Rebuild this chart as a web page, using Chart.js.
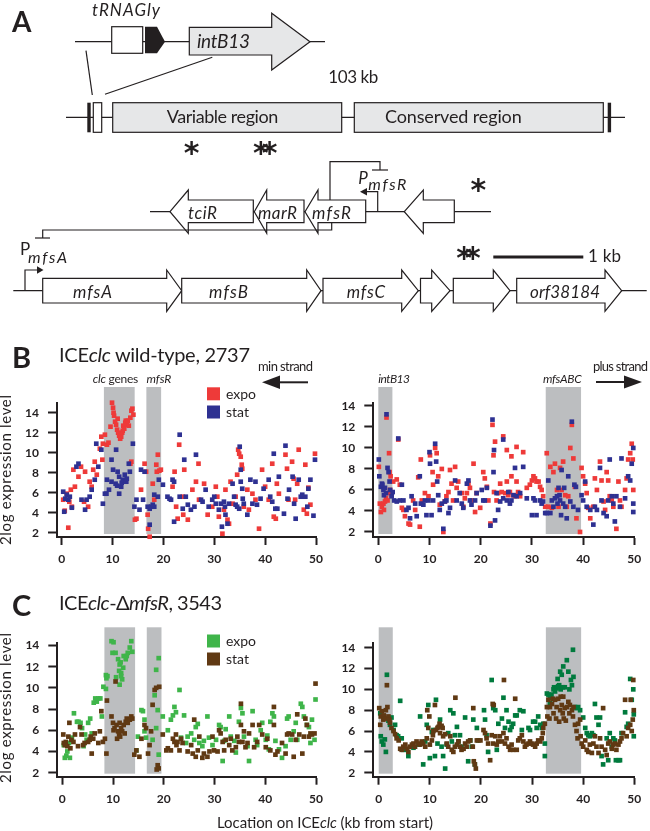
<!DOCTYPE html>
<html>
<head>
<meta charset="utf-8">
<title>ICEclc expression</title>
<script src="https://cdn.jsdelivr.net/npm/chart.js@4.4.1/dist/chart.umd.min.js"></script>
<style>
  html, body { margin: 0; padding: 0; background: #fff; }
  #page { position: relative; width: 650px; height: 831px; overflow: hidden; font-family: Lato, 'Open Sans', sans-serif; }
  canvas { position: absolute; }
  #overlay { position: absolute; left: 0; top: 0; z-index: 2; }
</style>
</head>
<body>
<div id="page">
  <canvas id="wtMin" width="330" height="190" style="left:0;top:380px"></canvas>
  <canvas id="wtPlus" width="330" height="190" style="left:320px;top:380px"></canvas>
  <canvas id="koMin" width="330" height="190" style="left:0;top:620px"></canvas>
  <canvas id="koPlus" width="330" height="190" style="left:320px;top:620px"></canvas>

  <svg id="overlay" width="650" height="831" font-family="Lato, 'Open Sans', sans-serif" fill="#231f20">
    <!-- panel A: gene map -->
    <g stroke="#231f20" stroke-width="1.2" fill="none">
      <line x1="75" y1="41.7" x2="325" y2="41.7"/>
      <rect x="111.7" y="26.7" width="31" height="26.6" fill="#fff"/>
      <polygon points="189.3,27.3 271.7,27.3 271.7,13.3 310,41.7 271.7,70 271.7,55 189.3,55" fill="#e6e7e8"/>
      <line x1="86" y1="50.7" x2="92.3" y2="95"/>
      <line x1="212.3" y1="57.3" x2="105" y2="94.3"/>

      <line x1="66" y1="117.3" x2="625" y2="117.3"/>
      <rect x="93.3" y="102.7" width="8.4" height="29.6" fill="#fff"/>
      <rect x="112.7" y="102.7" width="229" height="29.6" fill="#e6e7e8"/>
      <rect x="354.3" y="102.7" width="249" height="29.6" fill="#e6e7e8"/>

      <line x1="150" y1="211.7" x2="491" y2="211.7"/>
      <polygon points="170,211.7 188.3,190 188.3,200 253.3,200 253.3,222.7 188.3,222.7 188.3,233.3" fill="#fff"/>
      <polygon points="254.3,211.7 266.7,190 266.7,200 304,200 304,222.7 266.7,222.7 266.7,233.3" fill="#fff"/>
      <polygon points="305,211.7 318,190 318,200 365.7,200 365.7,222.7 318,222.7 318,233.3" fill="#fff"/>
      <polygon points="404.3,211.7 423.3,190 423.3,200 454.3,200 454.3,222.7 423.3,222.7 423.3,233.3" fill="#fff"/>
      <polyline points="377.7,211.7 377.7,191.7 366,191.7"/>
      <polyline points="330,200 330,161.7 380,161.7 380,170"/>
      <line x1="372" y1="170" x2="388" y2="170"/>

      <polyline points="331.7,222.7 331.7,230 42.7,230 42.7,238"/>
      <line x1="35" y1="238" x2="50" y2="238"/>
      <line x1="13.3" y1="290.7" x2="646.7" y2="290.7"/>
      <polyline points="25,290.7 25,270 38,270"/>
      <polygon points="42.7,278.3 166.7,278.3 166.7,270 181.7,290.7 166.7,311.3 166.7,303 42.7,303" fill="#fff"/>
      <polygon points="181.7,278.3 306.7,278.3 306.7,270 321,290.7 306.7,311.3 306.7,303 181.7,303" fill="#fff"/>
      <polygon points="323,278.3 401.7,278.3 401.7,270 418.3,290.7 401.7,311.3 401.7,303 323,303" fill="#fff"/>
      <polygon points="420.5,278.3 431.7,278.3 431.7,270 450,290.7 431.7,311.3 431.7,303 420.5,303" fill="#fff"/>
      <polygon points="453.3,278.3 493.3,278.3 493.3,270 510,290.7 493.3,311.3 493.3,303 453.3,303" fill="#fff"/>
      <polygon points="516.7,278.3 605,278.3 605,270 621.7,290.7 605,311.3 605,303 516.7,303" fill="#fff"/>
      <line x1="493.3" y1="257" x2="583.3" y2="257" stroke-width="3"/>
    </g>
    <polygon points="145,26.7 157,26.7 165,41.7 157,53.3 145,53.3"/>
    <rect x="87.3" y="102.7" width="3.4" height="29.6"/>
    <rect x="607.7" y="102.7" width="3.4" height="29.6"/>
    <polygon points="360,191.7 367,188 367,195.4"/>
    <polygon points="43.5,270 37,266.3 37,273.7"/>

    <text x="12" y="32" font-size="28" font-weight="bold">A</text>
    <text x="92" y="16" font-size="17" font-style="italic" textLength="68">tRNAGly</text>
    <text x="197" y="48.3" font-size="19" font-style="italic" textLength="53">intB13</text>
    <text x="328.3" y="82.7" font-size="17" textLength="50">103 kb</text>
    <text x="166.7" y="123" font-size="18" textLength="111.6">Variable region</text>
    <text x="385" y="123" font-size="18" textLength="136.7">Conserved region</text>
    <text x="191.7" y="163" font-size="30" font-weight="bold" text-anchor="middle" font-family="DejaVu Sans">*</text>
    <text x="261.7" y="163" font-size="30" font-weight="bold" text-anchor="middle" font-family="DejaVu Sans" letter-spacing="-7">**</text>
    <text x="478.3" y="200" font-size="30" font-weight="bold" text-anchor="middle" font-family="DejaVu Sans">*</text>
    <text x="465" y="268" font-size="30" font-weight="bold" text-anchor="middle" font-family="DejaVu Sans" letter-spacing="-7">**</text>
    <g font-size="17" font-style="italic">
      <text x="188" y="218.5" textLength="29">tciR</text>
      <text x="258" y="218.5" textLength="39">marR</text>
      <text x="312" y="218.5" textLength="39">mfsR</text>
      <text x="358.3" y="184">P</text>
      <text x="368.3" y="190" font-size="16" textLength="38">mfsR</text>
      <text x="73" y="298.3" textLength="39">mfsA</text>
      <text x="209" y="298.3" textLength="39">mfsB</text>
      <text x="346.7" y="298.3" textLength="38.3">mfsC</text>
      <text x="530" y="298.3" textLength="70">orf38184</text>
      <text x="28" y="263" font-size="16" textLength="39">mfsA</text>
    </g>
    <text x="20" y="255" font-size="17">P</text>
    <text x="588" y="262" font-size="17" textLength="33">1 kb</text>

    <!-- panel B / C headings -->
    <text x="12" y="368" font-size="29" font-weight="bold">B</text>
    <text x="59" y="362" font-size="20" textLength="191">ICE<tspan font-style="italic">clc</tspan> wild-type, 2737</text>
    <text x="12" y="616" font-size="29" font-weight="bold">C</text>
    <text x="59" y="610" font-size="20" textLength="163">ICE<tspan font-style="italic">clc</tspan>-Δ<tspan font-style="italic">mfsR</tspan>, 3543</text>

    <g font-size="13">
      <text x="258" y="371" textLength="55">min strand</text>
      <text x="593" y="371" textLength="55">plus strand</text>
    </g>
    <g font-size="12">
      <text x="92.7" y="383" textLength="45.6"><tspan font-style="italic">clc</tspan> genes</text>
      <text x="146.5" y="383" font-style="italic">mfsR</text>
      <text x="378.3" y="383" font-style="italic" textLength="31.7">intB13</text>
      <text x="543" y="383" font-style="italic" textLength="38.7">mfsABC</text>
    </g>
    <line x1="278" y1="382.3" x2="308" y2="382.3" stroke="#231f20" stroke-width="2"/>
    <polygon points="262,382.3 280,375.5 280,389"/>
    <line x1="596" y1="382" x2="626" y2="382" stroke="#231f20" stroke-width="2"/>
    <polygon points="642,382 624,375.5 624,388.5"/>

    <!-- legends -->
    <rect x="207" y="387.3" width="13" height="13" fill="#ee3a39"/>
    <rect x="207" y="405.5" width="13" height="13" fill="#2e3192"/>
    <text x="226" y="398.5" font-size="14">expo</text>
    <text x="226" y="416.5" font-size="14">stat</text>
    <rect x="207" y="634.5" width="13" height="13" fill="#3fb54a"/>
    <rect x="207" y="652.5" width="13" height="13" fill="#603913"/>
    <text x="226" y="645.5" font-size="14">expo</text>
    <text x="226" y="663.5" font-size="14">stat</text>

    <!-- axis titles -->
    <text transform="translate(11,470) rotate(-90)" text-anchor="middle" font-size="15" textLength="150">2log expression level</text>
    <text transform="translate(11,708) rotate(-90)" text-anchor="middle" font-size="15" textLength="150">2log expression level</text>
    <text x="217" y="827.7" font-size="15" textLength="216">Location on ICE<tspan font-style="italic">clc</tspan> (kb from start)</text>
  </svg>
</div>

<script>
'use strict';

// DATA (x = kb from start, y = 2log expression level)
let xTicks = [0, 10, 20, 30, 40, 50];
let yTicks = [2, 4, 6, 8, 10, 12, 14];

// grey shaded gene regions, kb
let minBands = [[8.3, 14.35], [16.65, 19.55]];
let plusBands = [[0, 2.75], [32.7, 39.6]];

let wtMinExpo = [[0.3,5.3],[0.6,4.2],[1.0,5.9],[1.3,2.5],[1.5,5.1],[1.8,6.3],[2.0,4.6],[2.3,8.3],[2.6,6.6],[3.3,7.6],[3.8,8.6],[4.4,5.1],[4.6,8.1],[5.2,4.6],[5.5,7.1],[5.9,6.6],[6.2,8.3],[6.5,9.1],[6.9,7.8],[7.5,10.4],[7.8,11.6],[8.0,9.3],[8.1,10.9],[8.5,11.8],[8.9,10.8],[9.2,11.0],[9.6,12.6],[9.9,15.0],[10.1,14.5],[10.2,14.0],[10.3,13.7],[10.5,13.1],[10.7,12.8],[10.9,12.3],[11.0,13.4],[11.1,12.0],[11.3,11.7],[11.5,11.4],[11.7,11.6],[11.9,12.0],[12.0,12.2],[12.1,12.7],[12.3,12.4],[12.5,13.0],[12.6,13.2],[12.8,12.8],[13.0,13.2],[13.2,12.7],[13.5,13.5],[13.7,14.2],[13.9,14.4],[14.1,13.8],[13.7,9.1],[13.5,8.9],[14.4,3.3],[14.7,3.4],[15.6,6.3],[16.3,8.9],[16.6,8.1],[16.9,3.8],[17.0,2.4],[17.3,1.6],[17.9,6.9],[18.2,5.3],[18.6,8.8],[18.7,8.1],[18.9,9.8],[19.2,8.2],[19.5,8.3],[21.8,6.6],[22.2,8.1],[22.5,4.6],[22.8,3.4],[23.1,10.8],[23.8,5.6],[23.9,3.8],[24.1,8.3],[24.8,3.3],[25.7,6.3],[26.4,7.1],[26.9,8.9],[27.0,5.3],[28.0,6.9],[28.7,3.8],[29.6,4.6],[30.3,6.6],[30.6,5.6],[30.9,3.6],[31.6,1.9],[31.9,4.3],[32.2,6.3],[32.6,3.3],[32.9,2.9],[33.2,7.1],[33.6,4.9],[34.2,5.6],[34.5,7.8],[34.7,10.3],[34.9,9.9],[35.2,9.6],[35.4,8.8],[35.5,8.4],[35.8,4.6],[36.5,6.3],[36.8,4.3],[37.5,5.9],[38.1,5.3],[38.8,2.4],[39.4,8.3],[40.0,6.6],[40.7,5.3],[41.4,8.9],[41.7,3.6],[42.1,3.4],[42.3,6.9],[42.7,5.9],[44.0,9.8],[44.3,8.4],[44.6,5.3],[45.3,9.1],[45.6,7.4],[45.9,5.3],[46.3,6.9],[46.6,10.3],[47.6,4.3],[47.9,8.8],[48.2,3.9],[48.5,6.5],[48.9,4.8],[49.8,9.9]];
let wtMinStat = [[0.3,6.1],[0.5,4.1],[0.7,5.4],[1.0,5.8],[1.3,5.3],[1.6,5.6],[2.0,4.5],[2.9,8.6],[3.3,8.9],[3.9,5.3],[4.6,4.3],[4.9,5.3],[5.5,5.6],[5.9,6.3],[6.5,7.3],[6.8,10.9],[7.2,8.6],[7.8,10.3],[8.1,4.9],[8.5,5.9],[8.8,5.9],[8.9,7.3],[9.3,6.3],[9.8,9.3],[9.8,7.1],[10.1,8.3],[10.6,6.9],[10.7,10.3],[10.9,6.7],[11.0,8.1],[11.3,7.6],[11.3,5.9],[11.7,6.6],[11.8,7.0],[12.0,7.3],[12.4,7.8],[12.7,7.1],[12.8,7.4],[13.2,8.9],[13.4,8.1],[14.0,10.9],[14.3,4.6],[14.7,5.3],[15.3,4.3],[15.6,8.3],[16.0,5.3],[16.3,8.1],[16.9,4.6],[17.3,4.4],[17.3,2.8],[17.6,4.6],[17.9,4.8],[18.2,4.6],[18.2,5.8],[18.9,5.6],[19.1,7.3],[19.9,6.8],[20.8,5.6],[21.2,5.4],[21.5,5.3],[21.8,7.3],[22.1,7.1],[22.1,3.1],[23.2,11.8],[23.2,5.6],[23.8,4.4],[24.1,9.3],[24.4,5.6],[24.8,4.8],[25.4,4.3],[26.1,4.6],[26.4,9.8],[27.4,5.3],[27.7,5.1],[28.3,6.3],[28.9,4.6],[29.6,5.3],[30.0,5.6],[30.3,4.9],[30.9,4.3],[31.3,4.9],[31.5,2.6],[31.9,5.1],[32.1,4.6],[32.2,3.8],[32.6,2.9],[32.9,4.9],[33.6,6.9],[33.9,5.6],[34.2,4.8],[34.5,4.6],[34.9,4.4],[35.0,10.6],[35.2,8.3],[35.2,7.1],[35.5,6.4],[35.6,5.4],[35.8,4.9],[36.5,3.8],[37.1,7.3],[37.5,4.9],[38.1,7.1],[38.4,4.8],[39.1,5.4],[39.7,6.4],[40.7,7.3],[41.0,5.6],[41.4,5.1],[41.7,9.9],[42.0,4.4],[42.4,4.4],[42.7,7.6],[43.7,3.9],[44.0,10.7],[44.4,5.4],[44.7,6.3],[45.4,7.6],[45.7,4.9],[46.0,3.4],[46.6,7.3],[47.0,5.6],[47.3,5.8],[47.9,5.6],[48.3,4.6],[48.5,6.4],[48.9,7.3],[49.5,3.7],[49.8,9.3]];

let wtPlusExpo = [[0.1,8.2],[0.3,4.7],[0.5,3.9],[0.7,4.4],[1.0,4.7],[1.1,4.1],[1.3,4.9],[1.5,5.2],[1.6,12.9],[1.8,5.0],[2.0,5.7],[2.1,9.5],[2.2,7.7],[2.3,6.0],[2.4,7.3],[2.6,5.5],[2.9,6.8],[3.6,7.0],[3.9,10.8],[4.2,6.5],[4.6,4.3],[4.9,4.1],[5.2,3.5],[5.9,2.8],[6.2,2.7],[6.8,5.0],[7.2,4.1],[7.8,7.2],[8.1,2.5],[8.3,8.9],[8.5,5.0],[9.1,5.7],[9.8,5.4],[10.1,9.3],[10.6,7.7],[10.7,6.5],[11.1,10.0],[11.4,9.5],[11.7,7.3],[12.0,4.6],[12.4,8.0],[12.7,2.0],[13.0,4.9],[13.3,5.4],[13.7,5.8],[14.0,7.9],[14.3,6.6],[14.6,5.0],[15.0,8.2],[15.3,6.2],[15.6,6.8],[16.3,5.7],[16.6,4.4],[16.9,5.2],[17.3,5.7],[17.6,6.6],[17.9,6.2],[18.2,5.0],[18.6,8.5],[18.9,3.9],[19.2,5.7],[19.9,4.3],[20.5,7.7],[20.8,7.1],[21.2,6.3],[21.5,5.0],[21.9,2.8],[22.3,12.2],[22.5,9.3],[22.6,5.8],[22.8,10.6],[23.1,5.0],[23.4,5.7],[23.8,6.6],[24.1,5.8],[24.4,11.1],[24.8,5.7],[25.1,9.8],[25.1,6.8],[25.4,5.5],[25.7,5.8],[26.0,9.2],[26.0,7.3],[26.4,5.5],[26.7,5.4],[27.0,10.1],[27.0,6.8],[27.3,5.8],[27.7,5.4],[28.3,9.6],[29.0,6.2],[29.6,6.5],[30.0,6.9],[30.3,7.3],[30.6,7.1],[30.9,6.8],[31.3,6.8],[31.6,6.3],[31.9,6.0],[32.2,5.4],[32.6,4.4],[32.9,9.5],[33.2,4.4],[33.6,8.2],[33.9,4.3],[34.2,7.7],[34.5,8.5],[34.9,6.0],[35.2,4.4],[35.5,8.1],[35.8,6.0],[36.1,8.7],[36.5,5.5],[36.8,4.4],[37.1,5.4],[37.5,10.0],[37.8,12.2],[38.1,9.0],[38.4,6.3],[38.7,3.3],[39.4,2.0],[39.7,8.1],[40.0,7.3],[40.4,6.6],[40.7,5.7],[41.0,4.3],[41.4,3.3],[42.0,4.4],[42.3,7.1],[42.7,6.0],[43.3,8.7],[43.6,6.9],[44.0,4.9],[44.3,4.1],[44.6,7.7],[44.9,6.9],[45.2,5.4],[45.6,5.0],[45.9,4.4],[46.5,2.3],[46.9,6.8],[47.2,5.0],[47.5,4.4],[48.2,6.0],[48.5,7.1],[48.8,8.9],[49.2,9.5],[49.5,10.4],[49.7,8.9],[49.8,6.0]];
let wtPlusStat = [[0.1,8.9],[0.2,7.3],[0.5,6.3],[0.7,6.6],[0.8,6.5],[1.0,6.0],[1.1,5.5],[1.3,6.2],[1.5,5.7],[1.6,13.2],[1.8,8.1],[2.0,7.7],[2.2,6.8],[2.3,6.0],[2.6,5.4],[2.8,5.8],[3.1,5.0],[3.6,4.9],[3.9,10.9],[4.2,5.0],[4.6,6.5],[4.9,5.0],[5.5,4.1],[5.9,4.3],[6.2,3.3],[6.5,5.4],[7.2,4.7],[7.5,3.5],[8.1,7.3],[8.3,4.7],[8.8,4.6],[9.1,5.0],[9.4,3.6],[9.8,5.0],[10.0,9.6],[10.1,8.5],[10.4,3.6],[10.7,5.0],[11.1,10.4],[11.3,8.7],[11.5,6.8],[11.7,5.5],[12.0,4.1],[12.4,4.7],[12.7,2.3],[13.0,4.9],[13.3,5.0],[13.7,3.8],[14.0,4.3],[15.0,6.9],[15.3,5.0],[15.9,5.7],[16.3,4.7],[16.6,4.3],[17.3,6.6],[17.6,6.9],[17.9,5.0],[18.2,4.6],[18.9,5.0],[19.2,5.7],[20.2,6.0],[20.5,5.0],[20.8,5.0],[21.2,6.2],[21.9,2.6],[22.3,12.7],[22.5,7.7],[22.6,9.8],[22.8,3.1],[23.1,5.7],[23.4,4.1],[23.8,4.9],[24.4,10.8],[24.4,5.2],[25.1,5.0],[25.4,5.8],[25.7,4.7],[26.0,5.0],[26.4,5.5],[26.7,8.1],[27.0,5.4],[27.7,5.7],[28.3,8.2],[29.0,5.2],[30.0,3.6],[30.3,5.2],[30.6,5.0],[30.9,3.6],[31.6,5.0],[31.9,4.7],[32.2,4.9],[32.6,3.8],[32.9,3.8],[33.2,6.9],[33.6,3.8],[33.9,5.0],[34.2,4.4],[34.5,5.2],[34.9,5.4],[35.0,4.7],[35.2,6.2],[35.4,5.5],[35.5,5.0],[35.7,3.6],[35.8,7.9],[36.1,4.7],[36.3,6.2],[36.5,4.4],[36.8,3.3],[37.1,7.3],[37.5,4.9],[37.8,12.5],[38.1,4.4],[38.3,6.5],[38.6,6.3],[39.0,4.1],[39.7,5.5],[40.0,5.0],[40.4,6.8],[40.7,4.4],[41.4,4.1],[42.0,2.7],[42.3,4.4],[42.7,4.1],[43.3,8.1],[43.6,5.0],[44.0,3.8],[44.6,3.5],[44.9,5.0],[45.2,8.9],[45.6,5.4],[45.9,4.7],[46.2,3.0],[46.5,5.4],[47.2,4.4],[47.5,9.0],[48.2,5.2],[48.8,7.3],[49.2,6.9],[49.5,8.5],[49.8,10.0],[49.8,4.7],[49.8,3.9]];

let koMinExpo = [[0.3,4.6],[0.5,3.4],[0.8,3.6],[1.0,4.0],[1.3,4.8],[1.5,3.4],[1.9,5.3],[2.3,7.6],[2.9,6.8],[3.2,6.8],[3.6,6.7],[3.9,6.2],[4.2,4.5],[4.5,5.6],[4.8,5.1],[5.1,6.7],[5.5,7.1],[5.8,5.7],[6.2,8.6],[6.5,9.0],[6.8,8.7],[7.1,9.0],[7.5,9.0],[7.8,7.3],[8.1,10.1],[8.6,11.2],[8.7,10.9],[8.6,9.9],[8.9,11.1],[9.7,14.4],[9.9,13.3],[10.1,14.3],[10.5,13.3],[10.6,11.0],[11.0,12.7],[11.2,11.6],[11.3,12.2],[11.3,10.3],[11.5,12.4],[11.6,11.4],[11.6,11.1],[11.8,10.8],[12.0,11.9],[12.1,13.0],[12.5,12.7],[12.7,13.0],[12.9,13.3],[13.3,13.8],[13.6,14.4],[13.8,13.4],[14.6,4.1],[14.9,5.4],[15.6,7.9],[15.9,7.8],[16.2,7.0],[16.2,5.9],[16.5,5.3],[17.8,5.1],[18.2,9.3],[18.5,11.7],[18.5,6.2],[18.8,7.9],[19.0,12.8],[19.0,3.7],[19.8,7.3],[20.8,6.0],[21.4,7.0],[21.8,7.4],[22.1,8.2],[22.4,7.7],[23.1,9.8],[23.4,5.3],[24.0,7.4],[24.4,4.8],[24.7,5.4],[25.4,5.7],[26.0,5.1],[26.3,6.3],[26.7,6.6],[27.0,4.8],[27.6,4.5],[27.9,5.0],[28.6,7.3],[28.9,5.3],[29.6,4.6],[30.3,5.1],[30.9,6.5],[31.2,6.3],[31.6,3.1],[31.9,5.0],[32.2,6.1],[32.9,7.3],[33.2,5.4],[33.9,5.0],[34.2,3.9],[34.8,6.8],[35.2,8.1],[35.5,7.6],[35.8,5.4],[36.5,4.5],[36.8,3.1],[37.5,7.8],[38.1,5.1],[38.4,4.6],[39.1,6.0],[39.4,6.7],[40.1,5.1],[40.4,5.5],[40.7,4.2],[41.0,6.8],[41.4,7.6],[41.7,7.3],[42.0,5.0],[42.7,4.2],[43.3,3.4],[44.0,4.5],[44.3,7.1],[44.6,7.3],[45.0,5.1],[45.6,5.9],[46.0,6.7],[46.3,5.1],[47.0,8.5],[47.3,8.2],[47.6,7.3],[48.2,6.5],[48.6,6.3],[48.9,4.8],[49.2,7.0],[49.7,5.1],[49.9,8.9]];
let koMinStat = [[0.2,5.6],[0.3,4.8],[0.5,4.6],[0.7,4.9],[1.0,4.5],[1.2,5.4],[1.4,6.7],[1.6,4.3],[1.8,5.1],[2.2,4.9],[2.5,5.6],[3.1,4.5],[3.5,6.3],[3.8,5.6],[4.1,4.6],[4.4,4.8],[5.1,4.9],[5.4,5.1],[5.6,5.4],[5.8,3.8],[6.1,5.2],[6.4,5.7],[7.1,4.8],[7.4,5.9],[7.7,7.8],[8.0,4.9],[8.4,5.2],[8.7,3.8],[8.8,8.8],[9.7,7.3],[10.0,6.7],[10.1,6.0],[10.3,6.2],[10.5,10.6],[10.7,6.5],[10.8,5.2],[11.0,5.9],[11.2,5.6],[11.3,6.7],[11.4,5.4],[11.6,6.2],[11.8,5.9],[12.1,6.5],[12.3,5.7],[12.5,6.8],[12.7,7.1],[12.9,6.7],[13.3,7.0],[13.6,7.3],[13.8,7.1],[14.2,3.7],[14.6,4.1],[15.2,3.5],[15.6,5.2],[16.2,6.5],[16.5,6.2],[16.9,3.8],[17.2,4.6],[17.5,5.9],[17.8,8.4],[18.2,9.8],[18.5,10.0],[18.6,2.3],[18.8,2.7],[19.0,2.4],[19.1,10.1],[19.8,5.6],[20.5,4.1],[20.8,4.3],[21.4,4.1],[21.8,5.2],[22.1,4.9],[22.4,5.6],[22.5,4.6],[22.7,4.9],[23.1,4.1],[23.4,5.2],[23.7,4.8],[24.7,4.0],[25.4,4.6],[25.7,3.8],[26.0,7.0],[26.3,3.5],[26.7,4.1],[27.0,5.4],[27.6,3.4],[27.9,3.8],[28.6,3.5],[29.0,4.0],[29.6,5.4],[29.9,4.1],[30.6,4.0],[30.9,6.0],[31.2,5.7],[31.6,4.9],[31.9,4.1],[32.2,5.1],[32.9,4.6],[33.2,5.2],[33.5,4.1],[34.2,4.4],[34.5,5.4],[34.8,4.9],[35.2,8.5],[35.2,6.5],[35.5,4.9],[35.8,5.9],[36.1,4.4],[36.5,4.8],[36.8,5.7],[37.5,6.5],[37.8,4.4],[38.4,4.9],[38.8,6.5],[39.4,5.6],[40.1,4.4],[40.4,5.2],[41.0,4.1],[41.7,8.2],[41.7,6.5],[42.0,3.7],[42.4,4.0],[43.3,4.8],[44.0,3.8],[44.3,5.6],[44.6,5.7],[45.3,5.6],[45.6,3.5],[46.0,5.1],[46.3,7.5],[46.7,5.6],[47.3,3.8],[47.6,5.4],[47.9,7.1],[48.2,6.5],[48.6,5.4],[48.9,5.7],[49.2,5.6],[49.7,5.7],[49.9,10.4]];

let koPlusExpo = [[0.3,7.7],[0.4,5.5],[0.6,5.0],[0.9,4.7],[1.2,5.2],[1.4,4.0],[1.6,11.4],[1.9,7.0],[2.2,6.6],[2.5,7.3],[2.9,6.1],[3.2,6.6],[3.5,5.6],[3.8,5.5],[4.2,8.9],[4.5,5.3],[4.8,4.2],[5.5,4.2],[5.8,3.6],[6.8,4.4],[7.8,4.7],[8.1,7.4],[8.7,2.8],[9.1,5.0],[9.4,6.6],[9.7,8.5],[10.0,3.4],[10.4,5.9],[10.7,6.1],[11.0,3.6],[11.2,9.0],[11.5,4.8],[12.0,7.1],[12.3,4.5],[12.6,3.6],[13.0,2.4],[13.3,4.7],[13.6,5.8],[14.0,8.0],[14.3,5.0],[14.6,7.7],[14.9,5.6],[15.3,6.4],[15.6,5.0],[15.9,5.6],[16.2,4.5],[16.9,7.3],[17.5,3.1],[17.9,5.1],[18.2,4.5],[18.5,7.1],[18.8,2.8],[19.2,6.3],[19.5,5.1],[20.6,8.0],[20.8,7.1],[21.1,5.6],[21.4,4.0],[22.1,10.9],[22.4,8.2],[22.8,8.0],[23.1,4.2],[23.4,6.7],[24.1,7.2],[24.4,9.2],[24.7,6.3],[25.0,8.0],[25.4,6.9],[25.7,6.1],[26.0,6.4],[26.3,6.7],[26.7,7.5],[27.0,7.5],[27.6,8.0],[28.0,6.1],[28.3,7.9],[29.3,6.3],[29.6,6.1],[30.2,6.9],[30.6,6.9],[30.9,6.3],[31.2,7.4],[31.6,6.6],[31.9,6.3],[32.2,6.7],[32.5,4.8],[32.5,3.6],[32.9,9.6],[33.2,9.5],[33.5,8.7],[33.5,9.2],[33.8,9.5],[34.2,10.0],[34.3,10.2],[34.5,9.8],[34.8,10.1],[35.0,11.0],[35.1,10.3],[35.3,10.4],[35.5,11.7],[35.6,10.0],[35.8,11.4],[36.0,10.2],[36.1,12.2],[36.4,10.2],[36.8,12.8],[37.1,11.7],[37.3,10.0],[37.6,10.9],[37.8,10.4],[38.0,13.8],[38.1,11.2],[38.4,8.3],[38.7,8.2],[39.0,8.3],[39.4,8.0],[40.0,7.3],[40.4,6.3],[40.7,5.8],[41.0,5.6],[41.3,5.5],[41.7,5.8],[42.0,5.6],[42.3,8.6],[42.6,7.3],[43.0,6.6],[43.3,7.3],[43.6,3.6],[43.9,2.8],[44.6,5.3],[44.9,3.2],[45.2,5.8],[45.6,4.5],[45.9,5.3],[46.2,5.1],[46.4,3.2],[46.9,3.2],[47.2,3.2],[47.5,5.8],[48.2,7.8],[48.5,6.4],[48.8,6.7],[49.2,11.0],[49.5,9.0],[49.8,10.0],[49.9,7.6],[49.9,5.5]];
let koPlusStat = [[0.1,8.2],[0.3,6.6],[0.4,7.4],[0.6,7.9],[0.9,7.1],[1.0,7.5],[1.2,7.2],[1.4,8.0],[1.6,10.4],[1.7,8.3],[1.9,7.4],[2.1,7.1],[2.2,6.8],[2.5,6.3],[2.9,6.0],[3.2,5.7],[3.5,5.3],[3.9,5.1],[4.2,4.3],[4.5,4.2],[4.8,4.5],[5.2,4.7],[5.5,4.3],[5.8,4.0],[6.1,4.5],[6.5,4.7],[6.8,4.8],[7.1,4.5],[7.4,5.0],[7.8,4.8],[8.1,4.7],[8.4,5.0],[8.7,4.8],[9.1,4.5],[9.4,5.3],[9.5,8.0],[9.7,6.3],[9.9,7.4],[10.0,4.7],[10.4,5.1],[10.6,5.6],[10.7,6.0],[11.0,8.5],[11.2,6.1],[11.5,6.3],[11.7,6.4],[11.9,6.7],[12.0,5.8],[12.3,6.5],[12.5,6.3],[12.6,5.5],[13.0,5.7],[13.3,4.8],[13.6,4.5],[14.0,5.5],[14.3,4.2],[14.6,4.0],[14.9,4.5],[15.0,9.2],[15.3,4.7],[15.6,5.0],[15.9,4.5],[16.2,4.2],[16.6,4.3],[16.9,4.8],[17.2,4.5],[17.5,5.0],[17.9,5.1],[18.4,4.5],[18.5,8.2],[18.6,3.1],[18.8,2.8],[19.0,2.4],[19.2,5.1],[19.9,5.1],[20.5,6.1],[20.8,5.8],[21.1,5.3],[21.4,4.8],[21.8,3.2],[22.1,5.6],[22.3,8.6],[22.4,4.8],[22.5,8.5],[22.8,5.5],[23.1,4.7],[23.4,5.0],[23.7,5.5],[24.1,5.0],[24.4,5.8],[24.5,10.9],[24.7,4.8],[25.0,5.3],[25.4,4.5],[25.7,4.2],[26.0,4.7],[26.3,4.2],[26.7,9.1],[27.0,4.2],[27.3,5.1],[27.6,5.3],[28.0,5.6],[28.3,5.0],[28.6,4.5],[28.9,4.7],[29.3,4.8],[29.6,5.0],[29.9,4.8],[30.2,4.7],[30.6,4.5],[30.9,4.8],[31.2,5.1],[31.6,5.0],[31.9,5.3],[32.1,5.8],[32.2,6.3],[32.5,6.7],[32.9,8.3],[33.0,7.4],[33.2,9.0],[33.4,7.2],[33.5,8.3],[33.9,8.6],[34.1,9.1],[34.2,7.7],[34.5,9.0],[34.7,7.2],[34.8,8.3],[35.1,9.1],[35.3,6.9],[35.5,8.0],[35.6,9.3],[35.8,8.5],[36.0,7.7],[36.1,9.3],[36.2,7.2],[36.4,8.2],[36.6,7.0],[36.8,8.3],[37.1,8.8],[37.3,7.7],[37.4,8.5],[37.8,8.0],[38.0,7.4],[38.1,8.3],[38.4,6.6],[38.7,6.0],[38.9,5.3],[39.0,6.7],[39.4,7.1],[39.5,5.5],[39.7,4.8],[40.0,4.5],[40.4,5.1],[40.7,4.2],[41.0,4.0],[41.3,4.7],[41.7,3.9],[42.0,4.8],[42.3,5.5],[42.6,4.5],[43.0,3.9],[43.3,5.3],[43.6,4.5],[43.9,8.2],[44.3,4.2],[44.6,3.7],[44.9,4.8],[45.2,5.0],[45.6,4.3],[45.9,4.7],[46.2,4.8],[46.5,4.2],[46.9,4.7],[47.2,5.0],[47.5,5.3],[47.8,5.8],[48.2,9.0],[48.5,5.5],[48.8,6.3],[49.2,6.6],[49.3,9.0],[49.5,6.0],[49.7,7.1],[49.8,10.9],[49.9,8.0]];

// COLORS
const INK = '#231f20';
const RED = '#ee3a39';
const BLUE = '#2e3192';
const LIGHT_GREEN = '#3fb54a';
const DARK_GREEN = '#007a3d';
const BROWN = '#603913';
const BAND_GREY = '#bcbec0';

// grey bands behind the points, reaching a little above the plot like the original
const bandPlugin = {
  id: 'bands',
  beforeDatasetsDraw(chart, args, opts) {
    let ctx = chart.ctx;
    let area = chart.chartArea;
    let x = chart.scales.x;
    ctx.save();
    ctx.fillStyle = BAND_GREY;
    for (let i = 0; i < opts.ranges.length; i++) {
      let x0 = x.getPixelForValue(opts.ranges[i][0]);
      let x1 = x.getPixelForValue(opts.ranges[i][1]);
      ctx.fillRect(x0, area.top - 16, x1 - x0, area.bottom - area.top + 13);
    }
    ctx.restore();
  }
};

function toPoints(list) {
  return list.map(p => ({ x: p[0], y: p[1] }));
}

function makeDataset(list, color) {
  return {
    data: toPoints(list),
    pointStyle: 'rect',
    pointRadius: 3.3,
    pointHoverRadius: 3.3,
    backgroundColor: color,
    borderWidth: 0,
    clip: false
  };
}

function makeChart(id, cfg) {
  let tickFont = { family: 'Lato, "Open Sans", sans-serif', size: 12, weight: 'bold' };
  return new Chart(document.getElementById(id), {
    type: 'scatter',
    data: {
      datasets: [
        makeDataset(cfg.stat, cfg.statColor),
        makeDataset(cfg.expo, cfg.expoColor)
      ]
    },
    options: {
      responsive: false,
      animation: false,
      events: [],
      layout: { padding: { top: cfg.padTop, right: cfg.padRight, left: 0, bottom: 0 } },
      plugins: {
        legend: { display: false },
        tooltip: { enabled: false },
        bands: { ranges: cfg.bands }
      },
      scales: {
        x: {
          type: 'linear',
          min: cfg.xMin,
          max: cfg.xMax,
          afterBuildTicks: s => { s.ticks = xTicks.map(v => ({ value: v })); },
          afterFit: s => { s.height = cfg.xAxisHeight; },
          grid: { drawOnChartArea: false, drawTicks: true, tickLength: 8, tickWidth: 2, tickColor: INK },
          border: { display: true, color: INK, width: 2 },
          ticks: { color: INK, font: tickFont, padding: 7, maxRotation: 0 }
        },
        y: {
          type: 'linear',
          min: cfg.yMin,
          max: cfg.yMax,
          afterBuildTicks: s => { s.ticks = yTicks.map(v => ({ value: v })); },
          afterFit: s => { s.width = cfg.yAxisWidth; },
          grid: { drawOnChartArea: false, drawTicks: true, tickLength: 9, tickWidth: 2, tickColor: INK },
          border: { display: true, color: INK, width: 2 },
          ticks: { color: INK, font: tickFont, padding: 9 }
        }
      }
    },
    plugins: [bandPlugin]
  });
}

makeChart('wtMin', {
  expo: wtMinExpo, stat: wtMinStat, expoColor: RED, statColor: BLUE, bands: minBands,
  xMin: -0.92, xMax: 50.16, yMin: 1.57, yMax: 14.97,
  padTop: 23, padRight: 12.5, yAxisWidth: 57, xAxisHeight: 33
});
makeChart('wtPlus', {
  expo: wtPlusExpo, stat: wtPlusStat, expoColor: RED, statColor: BLUE, bands: plusBands,
  xMin: -0.98, xMax: 50.04, yMin: 1.52, yMax: 14.28,
  padTop: 23, padRight: 15.5, yAxisWidth: 53.3, xAxisHeight: 33
});
makeChart('koMin', {
  expo: koMinExpo, stat: koMinStat, expoColor: LIGHT_GREEN, statColor: BROWN, bands: minBands,
  xMin: -0.98, xMax: 50.04, yMin: 1.62, yMax: 14.2,
  padTop: 23.3, padRight: 12.1, yAxisWidth: 57.3, xAxisHeight: 33.3
});
makeChart('koPlus', {
  expo: koPlusExpo, stat: koPlusStat, expoColor: DARK_GREEN, statColor: BROWN, bands: plusBands,
  xMin: -1.06, xMax: 50.04, yMin: 1.62, yMax: 14.42,
  padTop: 23.3, padRight: 15.5, yAxisWidth: 53.3, xAxisHeight: 33.3
});
</script>
</body>
</html>
